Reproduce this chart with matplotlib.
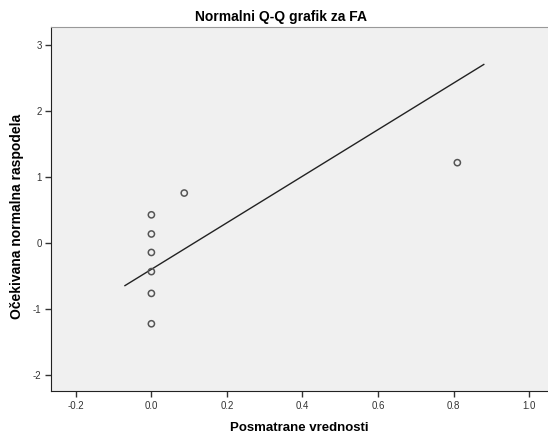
import matplotlib
matplotlib.use("Agg")
import matplotlib.pyplot as plt
import numpy as np

plt.rcParams['font.family'] = ['Liberation Sans', 'DejaVu Sans']
plt.rcParams['axes.unicode_minus'] = False

# observed values (FA) and expected normal quantiles
observed = [0.0, 0.0, 0.0, 0.0, 0.0, 0.0, 0.087, 0.81]
expected = [-1.22, -0.76, -0.43, -0.14, 0.14, 0.43, 0.76, 1.22]
line_x = [-0.07, 0.88]          # extent of reference line
x_ticks = [-0.2, 0.0, 0.2, 0.4, 0.6, 0.8, 1.0]
y_ticks = [-2, -1, 0, 1, 2, 3]

mean = np.mean(observed)
sd = np.std(observed, ddof=1)
line_y = [(v - mean) / sd for v in line_x]

fig = plt.figure(figsize=(5.48, 4.37), dpi=100)
ax = fig.add_axes([0.0936, 0.105, 0.9064, 0.8325])
ax.set_facecolor('#f0f0f0')

ax.plot(line_x, line_y, color='#222222', lw=1.0)
ax.scatter(observed, expected, s=20, facecolors='none', edgecolors='#555555', linewidths=1.1, zorder=3)

ax.set_xlim(-0.265, 1.05)
ax.set_ylim(-2.24, 3.27)
ax.set_xticks(x_ticks)
ax.set_xticklabels(['%.1f' % t for t in x_ticks])
ax.set_yticks(y_ticks)
ax.tick_params(axis='both', direction='out', length=4, width=1, color='#333333',
               labelsize=7, labelcolor='#333333', pad=3)

ax.spines['left'].set_color('#222222')
ax.spines['bottom'].set_color('#222222')
ax.spines['top'].set_color('#999999')
ax.spines['right'].set_visible(False)

ax.set_title('Normalni Q-Q grafik za FA', fontsize=10, fontweight='bold', pad=4.5, x=0.4625)
ax.set_xlabel('Posmatrane vrednosti', fontsize=9.5, fontweight='bold', labelpad=8)
ax.set_ylabel('Očekivana normalna raspodela', fontsize=10, fontweight='bold')
ax.yaxis.set_label_coords(-0.055, 0.481)

fig.savefig('out.png', dpi=100)
